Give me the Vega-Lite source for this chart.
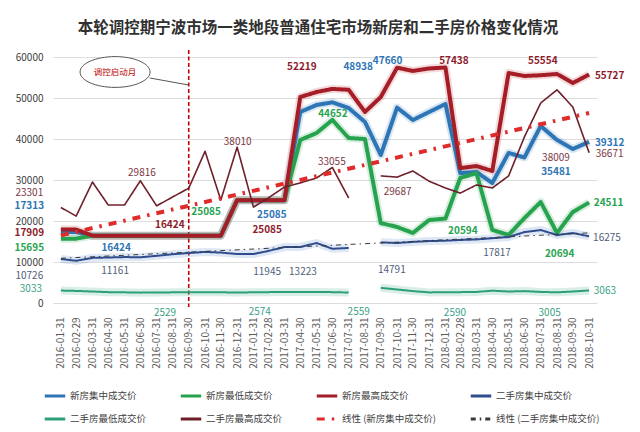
{
  "$schema": "https://vega.github.io/schema/vega-lite/v6.json",
  "width": 544,
  "height": 246,
  "autosize": {"type": "none"},
  "padding": {"left": 53, "top": 57, "right": 43, "bottom": 129},
  "background": "white",
  "title": {"text": "本轮调控期宁波市场一类地段普通住宅市场新房和二手房价格变化情况", "fontSize": 15.5, "fontWeight": "bold", "color": "#303030", "font": "Noto Sans CJK SC", "anchor": "middle", "offset": 13, "dx": -7},
  "config": {"view": {"stroke": null}, "font": "Noto Sans CJK SC"},
  "datasets": {
    "prices": [
      {"d": "2016-01-31", "新房集中成交价": 17313, "新房最低成交价": 15695, "新房最高成交价": 17909, "二手房集中成交价": 10726, "二手房最低成交价": 3033, "二手房最高成交价": 23301},
      {"d": "2016-02-29", "新房集中成交价": 17313, "新房最低成交价": 15695, "新房最高成交价": 17909, "二手房集中成交价": 10300, "二手房最低成交价": 2950, "二手房最高成交价": 21200},
      {"d": "2016-03-31", "新房集中成交价": 16424, "新房最低成交价": 16424, "新房最高成交价": 16424, "二手房集中成交价": 11000, "二手房最低成交价": 2800, "二手房最高成交价": 29500},
      {"d": "2016-04-30", "新房集中成交价": 16424, "新房最低成交价": 16424, "新房最高成交价": 16424, "二手房集中成交价": 11100, "二手房最低成交价": 2650, "二手房最高成交价": 23900},
      {"d": "2016-05-31", "新房集中成交价": 16424, "新房最低成交价": 16424, "新房最高成交价": 16424, "二手房集中成交价": 11200, "二手房最低成交价": 2600, "二手房最高成交价": 23900},
      {"d": "2016-06-30", "新房集中成交价": 16424, "新房最低成交价": 16424, "新房最高成交价": 16424, "二手房集中成交价": 11161, "二手房最低成交价": 2529, "二手房最高成交价": 29816},
      {"d": "2016-07-31", "新房集中成交价": 16424, "新房最低成交价": 16424, "新房最高成交价": 16424, "二手房集中成交价": 11500, "二手房最低成交价": 2550, "二手房最高成交价": 23700},
      {"d": "2016-08-31", "新房集中成交价": 16424, "新房最低成交价": 16424, "新房最高成交价": 16424, "二手房集中成交价": 11900, "二手房最低成交价": 2600, "二手房最高成交价": 25900},
      {"d": "2016-09-30", "新房集中成交价": 16424, "新房最低成交价": 16424, "新房最高成交价": 16424, "二手房集中成交价": 12200, "二手房最低成交价": 2650, "二手房最高成交价": 28000},
      {"d": "2016-10-31", "新房集中成交价": 16424, "新房最低成交价": 16424, "新房最高成交价": 16424, "二手房集中成交价": 12450, "二手房最低成交价": 2620, "二手房最高成交价": 37000},
      {"d": "2016-11-30", "新房集中成交价": 16424, "新房最低成交价": 16424, "新房最高成交价": 16424, "二手房集中成交价": 12300, "二手房最低成交价": 2600, "二手房最高成交价": 25100},
      {"d": "2016-12-31", "新房集中成交价": 25085, "新房最低成交价": 25085, "新房最高成交价": 25085, "二手房集中成交价": 11945, "二手房最低成交价": 2574, "二手房最高成交价": 38010},
      {"d": "2017-01-31", "新房集中成交价": 25085, "新房最低成交价": 25085, "新房最高成交价": 25085, "二手房集中成交价": 11950, "二手房最低成交价": 2600, "二手房最高成交价": 23400},
      {"d": "2017-02-28", "新房集中成交价": 25085, "新房最低成交价": 25085, "新房最高成交价": 25085, "二手房集中成交价": 12680, "二手房最低成交价": 2650, "二手房最高成交价": 25600},
      {"d": "2017-03-31", "新房集中成交价": 25085, "新房最低成交价": 25085, "新房最高成交价": 25085, "二手房集中成交价": 13660, "二手房最低成交价": 2700, "二手房最高成交价": 28300},
      {"d": "2017-04-30", "新房集中成交价": 46600, "新房最低成交价": 39760, "新房最高成交价": 50240, "二手房集中成交价": 13660, "二手房最低成交价": 2680, "二手房最高成交价": 29300},
      {"d": "2017-05-31", "新房集中成交价": 48300, "新房最低成交价": 41460, "新房最高成交价": 51460, "二手房集中成交价": 14630, "二手房最低成交价": 2700, "二手房最高成交价": 30500},
      {"d": "2017-06-30", "新房集中成交价": 48938, "新房最低成交价": 44652, "新房最高成交价": 52219, "二手房集中成交价": 13223, "二手房最低成交价": 2650, "二手房最高成交价": 33055},
      {"d": "2017-07-31", "新房集中成交价": 47560, "新房最低成交价": 40240, "新房最高成交价": 52000, "二手房集中成交价": 13420, "二手房最低成交价": 2559, "二手房最高成交价": 25600},
      {"d": "2017-08-31", "新房集中成交价": 44150, "新房最低成交价": 40000, "新房最高成交价": 46600, "二手房集中成交价": null, "二手房最低成交价": null, "二手房最高成交价": null},
      {"d": "2017-09-30", "新房集中成交价": 36100, "新房最低成交价": 19500, "新房最高成交价": 50240, "二手房集中成交价": 14791, "二手房最低成交价": 3700, "二手房最高成交价": 31000},
      {"d": "2017-10-31", "新房集中成交价": 47660, "新房最低成交价": 18540, "新房最高成交价": 57400, "二手房集中成交价": 14630, "二手房最低成交价": 3300, "二手房最高成交价": 30700},
      {"d": "2017-11-30", "新房集中成交价": 44630, "新房最低成交价": 17070, "新房最高成交价": 56600, "二手房集中成交价": 14900, "二手房最低成交价": 2900, "二手房最高成交价": 32200},
      {"d": "2017-12-31", "新房集中成交价": 46600, "新房最低成交价": 20240, "新房最高成交价": 57200, "二手房集中成交价": 15100, "二手房最低成交价": 2590, "二手房最高成交价": 29687},
      {"d": "2018-01-31", "新房集中成交价": 48540, "新房最低成交价": 20594, "新房最高成交价": 57438, "二手房集中成交价": 15200, "二手房最低成交价": 2600, "二手房最高成交价": 28050},
      {"d": "2018-02-28", "新房集中成交价": 31700, "新房最低成交价": 30500, "新房最高成交价": 32900, "二手房集中成交价": 15370, "二手房最低成交价": 2650, "二手房最高成交价": 26800},
      {"d": "2018-03-31", "新房集中成交价": 31950, "新房最低成交价": 31700, "新房最高成交价": 33400, "二手房集中成交价": 15500, "二手房最低成交价": 2700, "二手房最高成交价": 28800},
      {"d": "2018-04-30", "新房集中成交价": 29270, "新房最低成交价": 17817, "新房最高成交价": 32200, "二手房集中成交价": 15800, "二手房最低成交价": 3005, "二手房最高成交价": 28050},
      {"d": "2018-05-31", "新房集中成交价": 36600, "新房最低成交价": 16600, "新房最高成交价": 56100, "二手房集中成交价": 16100, "二手房最低成交价": 2800, "二手房最高成交价": 31000},
      {"d": "2018-06-30", "新房集中成交价": 35481, "新房最低成交价": 20694, "新房最高成交价": 55370, "二手房集中成交价": 17300, "二手房最低成交价": 2900, "二手房最高成交价": 40500},
      {"d": "2018-07-31", "新房集中成交价": 43170, "新房最低成交价": 24630, "新房最高成交价": 55554, "二手房集中成交价": 17800, "二手房最低成交价": 2700, "二手房最高成交价": 48780},
      {"d": "2018-08-31", "新房集中成交价": 39760, "新房最低成交价": 17070, "新房最高成交价": 55850, "二手房集中成交价": 16580, "二手房最低成交价": 2600, "二手房最高成交价": 52000},
      {"d": "2018-09-30", "新房集中成交价": 37560, "新房最低成交价": 22200, "新房最高成交价": 53660, "二手房集中成交价": 17070, "二手房最低成交价": 2800, "二手房最高成交价": 47800},
      {"d": "2018-10-31", "新房集中成交价": 39312, "新房最低成交价": 24511, "新房最高成交价": 55727, "二手房集中成交价": 16275, "二手房最低成交价": 3063, "二手房最高成交价": 36671}
    ],
    "trend": [
      {"d": "2016-01-31", "s": "线性 (新房集中成交价)", "v": 16490},
      {"d": "2018-10-31", "s": "线性 (新房集中成交价)", "v": 46340},
      {"d": "2016-01-31", "s": "线性 (二手房集中成交价)", "v": 10900},
      {"d": "2018-10-31", "s": "线性 (二手房集中成交价)", "v": 17100}
    ],
    "labels": [
      {"t": "23301", "s": "二手房最高成交价", "d": "2015-12-02", "v": 26830},
      {"t": "17313", "s": "新房集中成交价", "d": "2015-12-02", "v": 23660},
      {"t": "17909", "s": "新房最高成交价", "d": "2015-12-02", "v": 17070},
      {"t": "15695", "s": "新房最低成交价", "d": "2015-12-02", "v": 13410},
      {"t": "10726", "s": "二手房集中成交价", "d": "2015-12-02", "v": 6585},
      {"t": "3033", "s": "二手房最低成交价", "d": "2015-12-05", "v": 3410},
      {"t": "29816", "s": "二手房最高成交价", "d": "2016-07-03", "v": 31700},
      {"t": "16424", "s": "新房集中成交价", "d": "2016-05-15", "v": 13410},
      {"t": "16424", "s": "新房最高成交价", "d": "2016-08-25", "v": 19020},
      {"t": "25085", "s": "新房最低成交价", "d": "2016-11-02", "v": 22200},
      {"t": "25085", "s": "新房集中成交价", "d": "2017-03-07", "v": 21460},
      {"t": "25085", "s": "新房最高成交价", "d": "2017-02-26", "v": 17800},
      {"t": "38010", "s": "二手房最高成交价", "d": "2017-01-01", "v": 39270},
      {"t": "52219", "s": "新房最高成交价", "d": "2017-05-03", "v": 57560},
      {"t": "48938", "s": "新房集中成交价", "d": "2017-08-18", "v": 57560},
      {"t": "44652", "s": "新房最低成交价", "d": "2017-07-01", "v": 46100},
      {"t": "33055", "s": "二手房最高成交价", "d": "2017-06-29", "v": 34390},
      {"t": "47660", "s": "新房集中成交价", "d": "2017-10-13", "v": 59020},
      {"t": "57438", "s": "新房最高成交价", "d": "2018-02-16", "v": 59020},
      {"t": "55554", "s": "新房最高成交价", "d": "2018-08-04", "v": 59020},
      {"t": "55727", "s": "新房最高成交价", "d": "2018-12-09", "v": 55370},
      {"t": "39312", "s": "新房集中成交价", "d": "2018-12-09", "v": 39020},
      {"t": "36671", "s": "二手房最高成交价", "d": "2018-12-09", "v": 36340},
      {"t": "38009", "s": "二手房最高成交价", "d": "2018-08-29", "v": 35370},
      {"t": "35481", "s": "新房集中成交价", "d": "2018-08-29", "v": 31950},
      {"t": "29687", "s": "二手房最高成交价", "d": "2017-11-01", "v": 27070},
      {"t": "24511", "s": "新房最低成交价", "d": "2018-12-07", "v": 24390},
      {"t": "20594", "s": "新房最低成交价", "d": "2018-03-05", "v": 17560},
      {"t": "20694", "s": "新房最低成交价", "d": "2018-09-05", "v": 11950},
      {"t": "17817", "s": "二手房集中成交价", "d": "2018-05-09", "v": 12200},
      {"t": "16275", "s": "二手房集中成交价", "d": "2018-12-04", "v": 15850},
      {"t": "3063", "s": "二手房最低成交价", "d": "2018-11-30", "v": 2930},
      {"t": "3005", "s": "二手房最低成交价", "d": "2018-08-17", "v": -2440},
      {"t": "2590", "s": "二手房最低成交价", "d": "2018-02-18", "v": -2440},
      {"t": "14791", "s": "二手房集中成交价", "d": "2017-10-21", "v": 8050},
      {"t": "2559", "s": "二手房最低成交价", "d": "2017-08-19", "v": -2200},
      {"t": "13223", "s": "二手房集中成交价", "d": "2017-05-05", "v": 7560},
      {"t": "11945", "s": "二手房集中成交价", "d": "2017-02-26", "v": 7560},
      {"t": "2574", "s": "二手房最低成交价", "d": "2017-02-12", "v": -2200},
      {"t": "2529", "s": "二手房最低成交价", "d": "2016-08-16", "v": -2440},
      {"t": "11161", "s": "二手房集中成交价", "d": "2016-05-13", "v": 7800}
    ],
    "vline": [{"d": "2016-09-30", "v": 61700, "v2": -1000}],
    "callout": [{"d": "2016-05-13", "v": 56340, "t": "调控启动月"}],
    "tail": [{"d": "2016-07-18", "v": 54880, "d2": "2016-09-30", "v2": 53170}]
  },
  "encoding": {
    "x": {
      "field": "d", "type": "temporal",
      "scale": {"type": "utc", "domain": [{"year": 2016, "month": 1, "date": 16, "utc": true}, {"year": 2018, "month": 11, "date": 15, "utc": true}]},
      "axis": {
        "title": null, "labelExpr": "utcFormat(datum.value, '%Y-%m-%d')", "labelAngle": -90, "labelFontSize": 10, "labelColor": "#595959",
        "ticks": false, "domain": false, "grid": false, "labelPadding": 14, "labelOverlap": false,
        "values": [
          {"year": 2016, "month": 1, "date": 31, "utc": true}, {"year": 2016, "month": 2, "date": 29, "utc": true}, {"year": 2016, "month": 3, "date": 31, "utc": true},
          {"year": 2016, "month": 4, "date": 30, "utc": true}, {"year": 2016, "month": 5, "date": 31, "utc": true}, {"year": 2016, "month": 6, "date": 30, "utc": true},
          {"year": 2016, "month": 7, "date": 31, "utc": true}, {"year": 2016, "month": 8, "date": 31, "utc": true}, {"year": 2016, "month": 9, "date": 30, "utc": true},
          {"year": 2016, "month": 10, "date": 31, "utc": true}, {"year": 2016, "month": 11, "date": 30, "utc": true}, {"year": 2016, "month": 12, "date": 31, "utc": true},
          {"year": 2017, "month": 1, "date": 31, "utc": true}, {"year": 2017, "month": 2, "date": 28, "utc": true}, {"year": 2017, "month": 3, "date": 31, "utc": true},
          {"year": 2017, "month": 4, "date": 30, "utc": true}, {"year": 2017, "month": 5, "date": 31, "utc": true}, {"year": 2017, "month": 6, "date": 30, "utc": true},
          {"year": 2017, "month": 7, "date": 31, "utc": true}, {"year": 2017, "month": 8, "date": 31, "utc": true}, {"year": 2017, "month": 9, "date": 30, "utc": true},
          {"year": 2017, "month": 10, "date": 31, "utc": true}, {"year": 2017, "month": 11, "date": 30, "utc": true}, {"year": 2017, "month": 12, "date": 31, "utc": true},
          {"year": 2018, "month": 1, "date": 31, "utc": true}, {"year": 2018, "month": 2, "date": 28, "utc": true}, {"year": 2018, "month": 3, "date": 31, "utc": true},
          {"year": 2018, "month": 4, "date": 30, "utc": true}, {"year": 2018, "month": 5, "date": 31, "utc": true}, {"year": 2018, "month": 6, "date": 30, "utc": true},
          {"year": 2018, "month": 7, "date": 31, "utc": true}, {"year": 2018, "month": 8, "date": 31, "utc": true}, {"year": 2018, "month": 9, "date": 30, "utc": true},
          {"year": 2018, "month": 10, "date": 31, "utc": true}
        ]
      }
    },
    "y": {
      "field": "v", "type": "quantitative",
      "scale": {"domain": [0, 60000], "nice": false},
      "axis": {"title": null, "values": [0, 10000, 20000, 30000, 40000, 50000, 60000], "format": "d", "grid": true, "gridColor": "#dcdcdc", "domain": false, "ticks": false, "labelPadding": 10, "labelFontSize": 10, "labelColor": "#404040"}
    }
  },
  "layer": [
    {
      "data": {"name": "vline"},
      "mark": {"type": "rule", "color": "#c00000", "strokeDash": [4, 2.5], "strokeWidth": 1.6},
      "encoding": {"y2": {"field": "v2"}}
    },
    {
      "data": {"name": "prices"},
      "transform": [
        {"fold": ["新房集中成交价", "新房最低成交价", "新房最高成交价", "二手房集中成交价", "二手房最低成交价"], "as": ["s", "v"]}
      ],
      "mark": {"type": "line", "strokeWidth": 8, "strokeOpacity": 0.18, "strokeJoin": "round"},
      "encoding": {
        "stroke": {
          "field": "s", "type": "nominal",
          "scale": {
            "domain": ["新房集中成交价", "新房最低成交价", "新房最高成交价", "二手房集中成交价", "二手房最低成交价"],
            "range": ["#2e75b6", "#27a34f", "#c0303a", "#4a78c8", "#2c9f78"]
          },
          "legend": null
        }
      }
    },
    {
      "data": {"name": "prices"},
      "transform": [
        {"fold": ["新房集中成交价", "新房最低成交价", "新房最高成交价", "二手房集中成交价", "二手房最低成交价", "二手房最高成交价"], "as": ["s", "v"]}
      ],
      "mark": {"type": "line", "strokeJoin": "round"},
      "encoding": {
        "color": {
          "field": "s", "type": "nominal",
          "scale": {
            "domain": ["新房集中成交价", "新房最低成交价", "新房最高成交价", "二手房集中成交价", "二手房最低成交价", "二手房最高成交价", "线性 (新房集中成交价)", "线性 (二手房集中成交价)"],
            "range": ["#2e75b6", "#27a34f", "#a51d26", "#2f4d8c", "#2c9f78", "#6e1f2a", "#e02b2b", "#3a3a3a"]
          },
          "legend": {
            "title": null, "orient": "none", "legendX": -10, "legendY": 327, "direction": "horizontal", "columns": 4,
            "symbolType": "stroke", "symbolSize": 420, "symbolStrokeWidth": 3, "labelFontSize": 9.5, "labelColor": "#404040",
            "columnPadding": 27, "rowPadding": 5, "labelOffset": 3, "labelLimit": 200
          }
        },
        "strokeWidth": {
          "field": "s", "type": "nominal",
          "scale": {
            "type": "ordinal",
            "domain": ["新房集中成交价", "新房最低成交价", "新房最高成交价", "二手房集中成交价", "二手房最低成交价", "二手房最高成交价", "线性 (新房集中成交价)", "线性 (二手房集中成交价)"],
            "range": [4, 4, 4, 2, 2, 1.6, 3.5, 1.5]
          },
          "legend": null
        },
        "strokeDash": {
          "field": "s", "type": "nominal",
          "scale": {
            "domain": ["新房集中成交价", "新房最低成交价", "新房最高成交价", "二手房集中成交价", "二手房最低成交价", "二手房最高成交价", "线性 (新房集中成交价)", "线性 (二手房集中成交价)"],
            "range": [[1, 0], [1, 0], [1, 0], [1, 0], [1, 0], [1, 0], [8, 7, 2.5, 7], [5, 4, 1.5, 4]]
          },
          "legend": null
        }
      }
    },
    {
      "data": {"name": "trend"},
      "mark": {"type": "line"},
      "encoding": {
        "color": {"field": "s", "type": "nominal"},
        "strokeWidth": {"field": "s", "type": "nominal", "legend": null},
        "strokeDash": {"field": "s", "type": "nominal", "legend": null}
      }
    },
    {
      "data": {"name": "callout"},
      "mark": {"type": "point", "shape": "M-1,0A1,0.44,0,1,1,1,0A1,0.44,0,1,1,-1,0Z", "size": 4900, "filled": true, "fill": "#ffffff", "stroke": "#555555", "strokeWidth": 1, "opacity": 1}
    },
    {
      "data": {"name": "tail"},
      "mark": {"type": "rule", "color": "#555555", "strokeWidth": 1},
      "encoding": {"x2": {"field": "d2"}, "y2": {"field": "v2"}}
    },
    {
      "data": {"name": "callout"},
      "mark": {"type": "text", "fontSize": 8.5, "color": "#c00000", "font": "Noto Sans CJK SC"},
      "encoding": {"text": {"field": "t"}}
    },
    {
      "data": {"name": "labels"},
      "transform": [{"filter": {"field": "s", "oneOf": ["新房集中成交价", "新房最低成交价", "新房最高成交价"]}}],
      "mark": {"type": "text", "fontSize": 10, "fontWeight": "bold", "font": "Noto Sans CJK SC", "baseline": "middle"},
      "encoding": {
        "text": {"field": "t"},
        "fill": {
          "field": "s", "type": "nominal",
          "scale": {
            "domain": ["新房集中成交价", "新房最低成交价", "新房最高成交价", "二手房集中成交价", "二手房最低成交价", "二手房最高成交价"],
            "range": ["#2e75b6", "#27a34f", "#8e1b2a", "#4f6079", "#3a9f86", "#7a3844"]
          },
          "legend": null
        }
      }
    },
    {
      "data": {"name": "labels"},
      "transform": [{"filter": {"not": {"field": "s", "oneOf": ["新房集中成交价", "新房最低成交价", "新房最高成交价"]}}}],
      "mark": {"type": "text", "fontSize": 10, "font": "Noto Sans CJK SC", "baseline": "middle"},
      "encoding": {"text": {"field": "t"}, "fill": {"field": "s", "type": "nominal", "legend": null}}
    }
  ]
}
